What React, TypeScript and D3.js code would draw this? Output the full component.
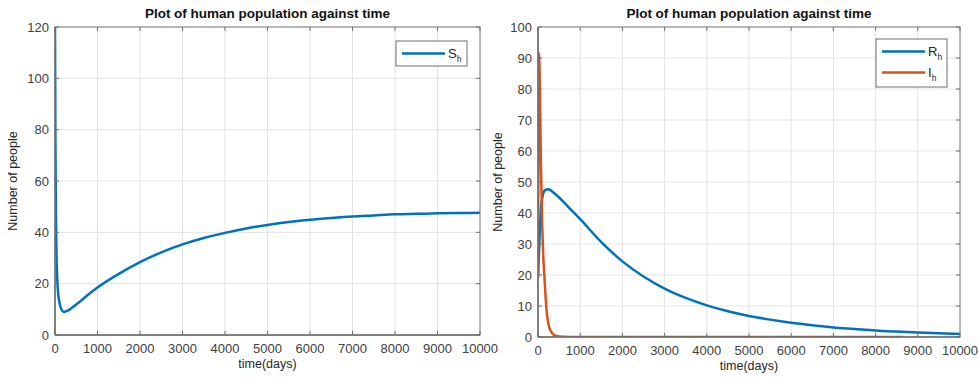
import { useEffect, useRef } from "react"
import * as d3 from "d3"

// S_h (left plot)
const tS = [0, 10, 20, 30, 50, 75, 100, 150, 210, 300, 400, 600, 800, 1000, 1500, 2000, 2500, 3000, 3500, 4000, 4500, 5000, 5500, 6000, 6500, 7000, 7500, 8000, 8500, 9000, 9500, 10000]
const S = [120, 75, 50, 36, 23, 16, 13, 10, 9, 9.5, 10.6, 13.2, 16, 18.5, 23.8, 28.4, 32.2, 35.3, 37.8, 39.8, 41.5, 42.9, 44, 44.9, 45.6, 46.2, 46.6, 47, 47.2, 47.4, 47.5, 47.6]

// R_h (right plot)
const tR = [0, 20, 40, 70, 110, 160, 240, 350, 500, 750, 1000, 1500, 2000, 2500, 3000, 3500, 4000, 4500, 5000, 5500, 6000, 6500, 7000, 7500, 8000, 8500, 9000, 9500, 10000]
const R = [19, 26, 33, 41, 45.5, 47.3, 47.7, 46.8, 45, 41.5, 38, 30.6, 24.4, 19.5, 15.6, 12.6, 10.2, 8.3, 6.8, 5.6, 4.6, 3.8, 3.1, 2.6, 2.1, 1.75, 1.45, 1.2, 1.0]

// I_h (right plot), stops near 8650
const tI = [0, 10, 20, 25, 35, 50, 70, 100, 125, 150, 200, 250, 320, 420, 600, 800, 1500, 3000, 5000, 7000, 8650]
const I = [20, 60, 88, 91.5, 88, 75, 55, 36, 26, 20, 9, 4, 1.5, 0.4, 0.05, 0, 0, 0, 0, 0, 0]

const xTicks = [0, 1000, 2000, 3000, 4000, 5000, 6000, 7000, 8000, 9000, 10000]
const yTicksL = [0, 20, 40, 60, 80, 100, 120]
const yTicksR = [0, 10, 20, 30, 40, 50, 60, 70, 80, 90, 100]

const BLUE = "#0072BD"
const ORANGE = "#D95319"
const FONT = "Liberation Sans, Arial, sans-serif"

type Series = { t: number[]; v: number[]; color: string; name: string }

function drawPanel(
  svg: d3.Selection<SVGSVGElement, unknown, null, undefined>,
  x0: number, x1: number, y0: number, y1: number,
  yMax: number, yTicks: number[], series: Series[],
  legend: { x: number; y: number },
  ylabelX: number, id: string
) {
  const x = d3.scaleLinear().domain([0, 10000]).range([x0, x1])
  const y = d3.scaleLinear().domain([0, yMax]).range([y1, y0])
  const g = svg.append("g")

  // grid
  g.selectAll(".gx").data(xTicks).join("line")
    .attr("x1", (d) => x(d)).attr("x2", (d) => x(d))
    .attr("y1", y0).attr("y2", y1)
    .attr("stroke", "#e3e3e3").attr("stroke-width", 1)
  g.selectAll(".gy").data(yTicks).join("line")
    .attr("x1", x0).attr("x2", x1)
    .attr("y1", (d) => y(d)).attr("y2", (d) => y(d))
    .attr("stroke", "#e3e3e3").attr("stroke-width", 1)

  svg.append("clipPath").attr("id", id)
    .append("rect").attr("x", x0).attr("y", y0 - 2).attr("width", x1 - x0 + 2).attr("height", y1 - y0 + 2)

  const line = d3.line<[number, number]>()
    .x((d) => x(d[0])).y((d) => y(d[1]))
    .curve(d3.curveMonotoneX)

  series.forEach((s) => {
    g.append("path")
      .datum(s.t.map((t, i) => [t, s.v[i]] as [number, number]))
      .attr("clip-path", `url(#${id})`)
      .attr("fill", "none")
      .attr("stroke", s.color)
      .attr("stroke-width", 2.5)
      .attr("d", line)
  })

  // box
  g.append("rect").attr("x", x0).attr("y", y0).attr("width", x1 - x0).attr("height", y1 - y0)
    .attr("fill", "none").attr("stroke", "#808080").attr("stroke-width", 1)
  g.append("line").attr("x1", x0).attr("x2", x0).attr("y1", y0).attr("y2", y1)
    .attr("stroke", "#6e6e6e").attr("stroke-width", 1.5)
  g.append("line").attr("x1", x0).attr("x2", x1).attr("y1", y1).attr("y2", y1)
    .attr("stroke", "#6e6e6e").attr("stroke-width", 1.5)

  // inward ticks on all four sides
  const tk = 4
  xTicks.forEach((d) => {
    g.append("line").attr("x1", x(d)).attr("x2", x(d)).attr("y1", y1).attr("y2", y1 - tk).attr("stroke", "#6e6e6e")
    g.append("line").attr("x1", x(d)).attr("x2", x(d)).attr("y1", y0).attr("y2", y0 + tk).attr("stroke", "#6e6e6e")
  })
  yTicks.forEach((d) => {
    g.append("line").attr("x1", x0).attr("x2", x0 + tk).attr("y1", y(d)).attr("y2", y(d)).attr("stroke", "#6e6e6e")
    g.append("line").attr("x1", x1).attr("x2", x1 - tk).attr("y1", y(d)).attr("y2", y(d)).attr("stroke", "#6e6e6e")
  })

  // tick labels
  g.selectAll(".xl").data(xTicks).join("text")
    .attr("x", (d) => x(d)).attr("y", y1 + 18)
    .attr("text-anchor", "middle").attr("font-size", 13).attr("fill", "#404040")
    .attr("font-family", FONT).text((d) => String(d))
  g.selectAll(".yl").data(yTicks).join("text")
    .attr("x", x0 - 6).attr("y", (d) => y(d) + 4.5)
    .attr("text-anchor", "end").attr("font-size", 13).attr("fill", "#404040")
    .attr("font-family", FONT).text((d) => String(d))

  // title
  g.append("text").attr("x", (x0 + x1) / 2).attr("y", 18)
    .attr("text-anchor", "middle").attr("font-size", 13.5).attr("font-weight", "bold")
    .attr("fill", "#111").attr("font-family", FONT)
    .text("Plot of human population against time")

  // x label
  g.append("text").attr("x", (x0 + x1) / 2).attr("y", y1 + 33)
    .attr("text-anchor", "middle").attr("font-size", 12.5).attr("fill", "#262626")
    .attr("font-family", FONT).text("time(days)")

  // y label
  g.append("text")
    .attr("transform", `translate(${ylabelX},${(y0 + y1) / 2}) rotate(-90)`)
    .attr("text-anchor", "middle").attr("font-size", 12.5).attr("fill", "#262626")
    .attr("font-family", FONT).text("Number of people")

  // legend
  const bw = 71
  const bh = 25 + (series.length - 1) * 23
  const lg = g.append("g").attr("transform", `translate(${legend.x},${legend.y})`)
  lg.append("rect").attr("width", bw).attr("height", bh)
    .attr("fill", "white").attr("stroke", "#6e6e6e").attr("stroke-width", 1)
  series.forEach((s, i) => {
    const cy = 12.5 + i * 21
    lg.append("line").attr("x1", 6).attr("x2", 49).attr("y1", cy).attr("y2", cy)
      .attr("stroke", s.color).attr("stroke-width", 2.5)
    const t = lg.append("text").attr("x", 52).attr("y", cy + 4)
      .attr("font-size", 13).attr("fill", "#262626").attr("font-family", FONT)
    t.append("tspan").text(s.name)
    t.append("tspan").attr("dy", 4).attr("font-size", 8.5).text("h")
  })
}

export default function App() {
  const ref = useRef<SVGSVGElement>(null)

  useEffect(() => {
    document.body.style.margin = "0"
    if (!ref.current) return
    const svg = d3.select(ref.current)
    svg.selectAll("*").remove()

    drawPanel(svg, 55, 480, 27, 335, 120, yTicksL,
      [{ t: tS, v: S, color: BLUE, name: "S" }],
      { x: 396, y: 41 }, 17, "clipL")

    drawPanel(svg, 538, 960, 27, 337, 100, yTicksR,
      [
        { t: tR, v: R, color: BLUE, name: "R" },
        { t: tI, v: I, color: ORANGE, name: "I" },
      ],
      { x: 876, y: 39 }, 502, "clipR")
  }, [])

  return <svg ref={ref} width={978} height={383} style={{ display: "block", background: "white" }} />
}
